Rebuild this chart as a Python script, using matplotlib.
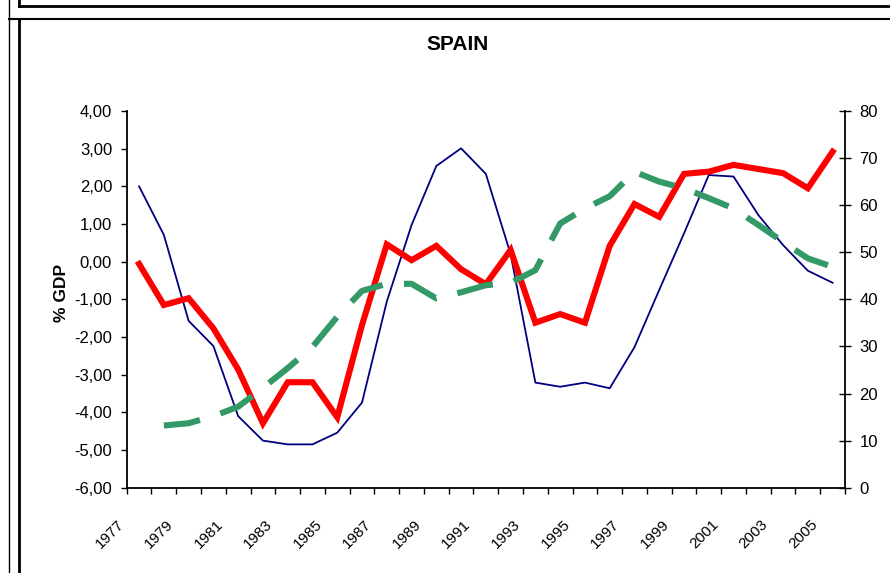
import matplotlib
matplotlib.use("Agg")
import matplotlib.pyplot as plt
from matplotlib.lines import Line2D
import numpy as np

plt.rcParams['font.family'] = ['Liberation Sans', 'DejaVu Sans']

# data
years = list(range(1977, 2006))

# thin navy line, left axis (% GDP)
blue_vals = [2.00, 0.71, -1.57, -2.24, -4.10, -4.75, -4.85, -4.85, -4.54, -3.74,
             -1.06, 0.97, 2.54, 3.01, 2.33, 0.20, -3.21, -3.32, -3.21, -3.36,
             -2.27, -0.75, 0.75, 2.30, 2.26, 1.24, 0.44, -0.24, -0.56]
# thick red line, left axis (% GDP)
red_vals = [-0.06, -1.15, -0.97, -1.77, -2.86, -4.29, -3.20, -3.20, -4.13, -1.68,
            0.46, 0.04, 0.42, -0.20, -0.60, 0.31, -1.62, -1.39, -1.62, 0.42,
            1.53, 1.19, 2.33, 2.39, 2.57, 2.46, 2.35, 1.95, 2.92]
# green dashed line, right axis
green_vals = [np.nan, 13.2, 13.7, 15.2, 17.2, 21.2, 25.4, 29.9, 36.3, 41.8,
              43.3, 43.3, 40.2, 41.5, 43.0, 43.5, 46.2, 56.1, 59.3, 61.9,
              67.1, 65.0, 63.6, 61.5, 59.3, 55.8, 52.2, 48.7, 46.9]

W, H = 890, 573
fig = plt.figure(figsize=(W / 100, H / 100), dpi=100)


def fx(px):
    return px / W


def fy(py):
    return 1 - py / H


ax = fig.add_axes([fx(126.7), fy(487.7), fx(845) - fx(126.7), fy(111) - fy(487.7)])
ax2 = ax.twinx()

x = np.arange(len(years))
ax.plot(x, blue_vals, color='#000080', lw=1.3, zorder=2)
ax.plot(x, red_vals, color='#ff0000', lw=4.4, solid_joinstyle='miter', zorder=3)
ax2.plot(x, green_vals, color='#339966', lw=4.4, dashes=(6, 3.5),
         dash_capstyle='butt')

ax.set_xlim(-0.5, len(years) - 0.5)
ax.set_ylim(-6, 4)
ax2.set_ylim(0, 80)

# category boundaries as ticks, labels every second year
bounds = np.arange(-0.5, len(years), 1.0)
labels = []
for i in range(len(bounds)):
    labels.append(str(years[0] + i) if i % 2 == 0 and i < len(years) else '')
ax.set_xticks(bounds)
ax.set_xticklabels(labels, rotation=45, ha='right', va='top', fontsize=11)
ax.tick_params(axis='x', direction='out', length=4.5, width=1, pad=17)

yt = np.arange(-6, 5, 1)
ax.set_yticks(yt)
ax.set_yticklabels([('%.2f' % v).replace('.', ',') for v in yt], fontsize=12)
ax.tick_params(axis='y', direction='out', length=4.5, width=1, pad=6)

ax2.set_yticks(np.arange(0, 81, 10))
ax2.set_yticklabels([str(v) for v in range(0, 81, 10)], fontsize=12)
ax2.tick_params(axis='y', direction='inout', length=9, width=1, pad=6)

for a in (ax, ax2):
    a.spines['top'].set_visible(False)
    for s in a.spines.values():
        s.set_linewidth(1.3)
ax.spines['right'].set_visible(False)
ax2.spines['left'].set_visible(False)
ax2.spines['bottom'].set_visible(False)

fig.text(fx(457.5), fy(44.5), 'SPAIN', ha='center', va='center',
         fontsize=15, fontweight='bold')
fig.text(fx(61.5), fy(293), '% GDP', ha='center', va='center', rotation=90,
         fontsize=12.5, fontweight='bold')

# frame lines of the sheet
frame = [
    ((8.5, 8.5), (0, H), 1.0, 'black'),
    ((18.5, 18.5), (0, 6), 2.0, 'black'),
    ((18.5, W), (6, 6), 2.0, 'black'),
    ((8.5, W), (18.5, 18.5), 1.5, 'black'),
    ((19, 19), (18.5, H), 2.0, 'black'),
]
for xs, ys, lw, c in frame:
    fig.add_artist(Line2D([fx(xs[0]), fx(xs[1])], [fy(ys[0]), fy(ys[1])],
                          transform=fig.transFigure, lw=lw, color=c))

fig.savefig('out.png', dpi=100)
